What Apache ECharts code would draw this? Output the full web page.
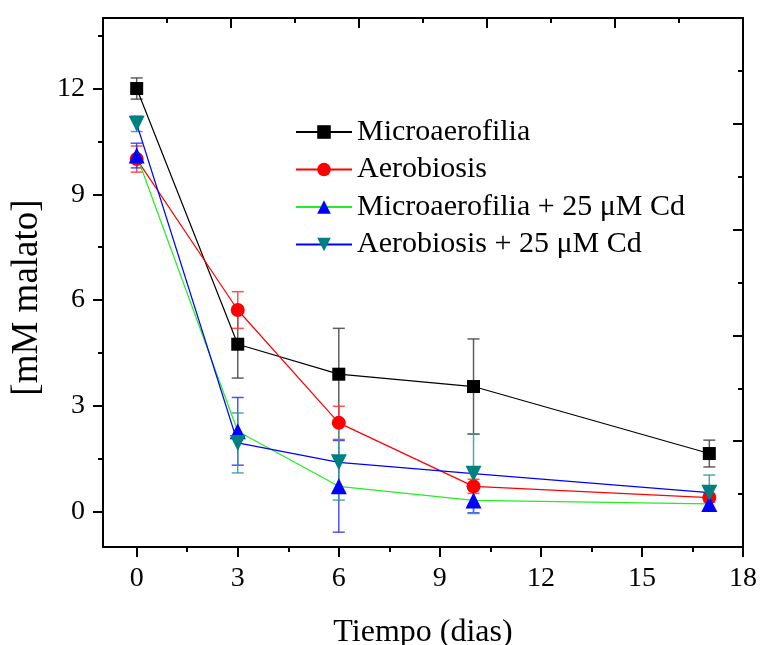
<!DOCTYPE html>
<html>
<head>
<meta charset="utf-8">
<script src="https://cdn.jsdelivr.net/npm/echarts@6/dist/echarts.min.js"></script>
<style>
  html, body { margin: 0; padding: 0; background: #fff; }
  #chart { width: 760px; height: 645px; }
</style>
</head>
<body>
<div id="chart"></div>
<script>
// ---- data ----
const days = [0, 3, 6, 10, 17];
const seriesNames = ['Microaerofilia', 'Aerobiosis', 'Microaerofilia + 25 μM Cd', 'Aerobiosis + 25 μM Cd'];
const microaerofilia = [12.0, 4.75, 3.9, 3.55, 1.65];
const microaerofiliaErr = [0.3, 0.96, 1.3, 1.35, 0.38];
const aerobiosis = [10.0, 5.72, 2.52, 0.72, 0.4];
const aerobiosisErr = [0.37, 0.52, 0.47, 0.2, 0.12];
const microCd = [10.1, 2.28, 0.72, 0.32, 0.22];
const microCdErr = [0.35, 0.96, 1.3, 0.35, 0.2];
const aeroCd = [11.0, 1.95, 1.4, 1.08, 0.54];
const aeroCdErr = [0.22, 0.85, 1.07, 1.13, 0.5];
const xTickLabels = [0, 3, 6, 9, 12, 15, 18];
const xMinorTicks = [1.5, 4.5, 7.5, 10.5, 13.5, 16.5];
const yTickLabels = [0, 3, 6, 9, 12];
const yMinorTicks = [1.5, 4.5, 7.5, 10.5, 13.5];

const FONT = 'Liberation Serif';

function pairs(vals) { return days.map((d, i) => [d, vals[i]]); }
function triples(vals, errs) { return days.map((d, i) => [d, vals[i], errs[i]]); }

function errSeries(name, vals, errs, color) {
  return {
    name: name,
    type: 'custom',
    xAxisIndex: 0, yAxisIndex: 0,
    z: 1,
    silent: true,
    data: triples(vals, errs),
    encode: { x: 0, y: 1 },
    renderItem: function (params, api) {
      const x = api.value(0), y = api.value(1), e = api.value(2);
      const t = api.coord([x, y + e]);
      const b = api.coord([x, y - e]);
      const hw = 6;
      const st = { stroke: color, lineWidth: 1.5, opacity: 0.85 };
      return {
        type: 'group',
        children: [
          { type: 'line', shape: { x1: t[0], y1: t[1], x2: b[0], y2: b[1] }, style: st },
          { type: 'line', shape: { x1: t[0] - hw, y1: t[1], x2: t[0] + hw, y2: t[1] }, style: st },
          { type: 'line', shape: { x1: b[0] - hw, y1: b[1], x2: b[0] + hw, y2: b[1] }, style: st }
        ]
      };
    }
  };
}

function lineSeries(name, vals, lineColor, symColor, symbol, size, rotate) {
  return {
    name: name,
    type: 'line',
    xAxisIndex: 0, yAxisIndex: 0,
    z: 3,
    data: pairs(vals),
    symbol: symbol,
    symbolSize: size,
    symbolRotate: rotate || 0,
    lineStyle: { color: lineColor, width: 1.2 },
    itemStyle: { color: symColor, borderWidth: 0 },
    emphasis: { disabled: true }
  };
}

const chart = echarts.init(document.getElementById('chart'), null, { renderer: 'canvas' });
const axisLineStyle = { color: '#000', width: 2 };

const option = {
  animation: false,
  backgroundColor: '#fff',
  grid: { left: 103, right: 17, top: 18, bottom: 98, containLabel: false, outerBoundsMode: 'none' },
  legend: {
    data: seriesNames,
    orient: 'vertical',
    left: 290,
    top: 112,
    itemWidth: 56,
    itemHeight: 17,
    itemGap: 7.5,
    textStyle: { fontFamily: FONT, fontSize: 30, color: '#000', lineHeight: 30 }
  },
  xAxis: [
    {
      type: 'value', min: -1, max: 18, position: 'bottom',
      name: 'Tiempo (dias)', nameLocation: 'middle', nameGap: 70,
      nameTextStyle: { fontFamily: FONT, fontSize: 32, color: '#000' },
      axisLine: { show: true, onZero: false, lineStyle: axisLineStyle },
      axisTick: { show: true, customValues: xTickLabels, length: 10, lineStyle: { color: '#000', width: 2 } },
      axisLabel: { show: true, customValues: xTickLabels, fontFamily: FONT, fontSize: 28, color: '#000', margin: 18 },
      splitLine: { show: false }
    },
    {
      type: 'value', min: -1, max: 18, position: 'bottom',
      axisLine: { show: false, onZero: false },
      axisTick: { show: true, customValues: xMinorTicks, length: 5, lineStyle: { color: '#000', width: 2 } },
      axisLabel: { show: false },
      splitLine: { show: false }
    },
    {
      type: 'value', min: 0, max: 10, interval: 2, position: 'top',
      axisLine: { show: true, onZero: false, lineStyle: axisLineStyle },
      axisTick: { show: true, inside: true, length: 10, lineStyle: { color: '#000', width: 2 } },
      minorTick: { show: true, splitNumber: 2, length: 5, lineStyle: { color: '#000', width: 2 } },
      axisLabel: { show: false },
      splitLine: { show: false }
    }
  ],
  yAxis: [
    {
      type: 'value', min: -1, max: 14, position: 'left',
      name: '[mM malato]', nameLocation: 'middle', nameGap: 47,
      nameTextStyle: { fontFamily: FONT, fontSize: 37, color: '#000', padding: [0, 30, 0, 0] },
      axisLine: { show: true, onZero: false, lineStyle: axisLineStyle },
      axisTick: { show: true, customValues: yTickLabels, length: 10, lineStyle: { color: '#000', width: 2 } },
      axisLabel: { show: true, customValues: yTickLabels, fontFamily: FONT, fontSize: 28, color: '#000', margin: 18 },
      splitLine: { show: false }
    },
    {
      type: 'value', min: -1, max: 14, position: 'left',
      axisLine: { show: false, onZero: false },
      axisTick: { show: true, customValues: yMinorTicks, length: 5, lineStyle: { color: '#000', width: 2 } },
      axisLabel: { show: false },
      splitLine: { show: false }
    },
    {
      type: 'value', min: 0, max: 10, interval: 2, position: 'right',
      axisLine: { show: true, onZero: false, lineStyle: axisLineStyle },
      axisTick: { show: true, inside: true, length: 10, lineStyle: { color: '#000', width: 2 } },
      minorTick: { show: true, splitNumber: 2, length: 5, lineStyle: { color: '#000', width: 2 } },
      axisLabel: { show: false },
      splitLine: { show: false }
    }
  ],
  series: [
    errSeries('e1', microaerofilia, microaerofiliaErr, '#444444'),
    errSeries('e2', aerobiosis, aerobiosisErr, '#ff3333'),
    errSeries('e3', microCd, microCdErr, '#3333ff'),
    errSeries('e4', aeroCd, aeroCdErr, '#339999'),
    lineSeries(seriesNames[0], microaerofilia, '#000000', '#000000', 'rect', 13),
    lineSeries(seriesNames[1], aerobiosis, '#ff0000', '#ff0000', 'circle', 14),
    lineSeries(seriesNames[2], microCd, '#22ee22', '#0000ff', 'triangle', 16),
    lineSeries(seriesNames[3], aeroCd, '#0000ff', '#008080', 'triangle', 16, 180)
  ]
};
chart.setOption(option);
</script>
</body>
</html>
